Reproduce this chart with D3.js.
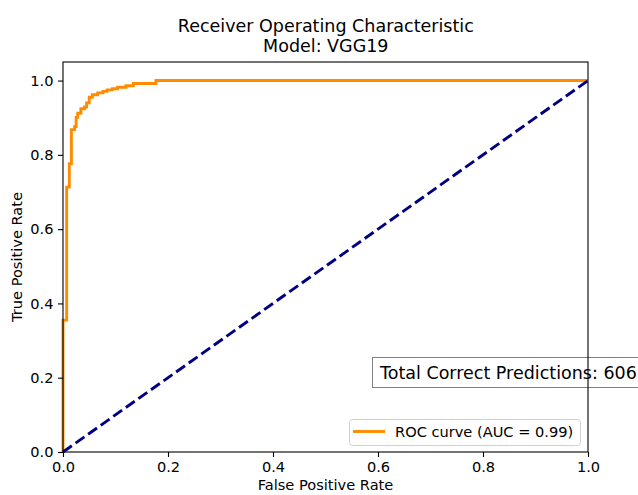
<!DOCTYPE html>
<html>
<head>
<meta charset="utf-8">
<script src="https://cdn.jsdelivr.net/npm/d3@7"></script>
<style>
  body { margin: 0; background: #fff; }
  svg { font-family: "DejaVu Sans", sans-serif; }
</style>
</head>
<body>
<div id="chart"></div>
<script>
// ROC curve vertices
const fpr = [0, 0, 0.007, 0.007, 0.012, 0.012, 0.016, 0.016, 0.022, 0.022, 0.025, 0.025,
  0.028, 0.028, 0.034, 0.034, 0.041, 0.041, 0.045, 0.045, 0.050, 0.050, 0.056, 0.056,
  0.066, 0.066, 0.076, 0.076, 0.084, 0.084, 0.094, 0.094, 0.104, 0.104, 0.120, 0.120,
  0.134, 0.134, 0.177, 0.177, 1];
const tpr = [0, 0.355, 0.355, 0.713, 0.713, 0.776, 0.776, 0.868, 0.868, 0.876, 0.876, 0.901,
  0.901, 0.912, 0.912, 0.924, 0.924, 0.929, 0.929, 0.940, 0.940, 0.955, 0.955, 0.962,
  0.962, 0.967, 0.967, 0.971, 0.971, 0.975, 0.975, 0.978, 0.978, 0.982, 0.982, 0.986,
  0.986, 0.992, 0.992, 1.0, 1.0];
const chance = [[0, 0], [1, 1]];
const ticks = [0, 0.2, 0.4, 0.6, 0.8, 1.0];
const titleLines = ['Receiver Operating Characteristic', 'Model: VGG19'];
const legendLabel = 'ROC curve (AUC = 0.99)';
const boxText = 'Total Correct Predictions: 606';

const width = 638, height = 495;
const margin = {top: 62, right: 50, bottom: 43, left: 63};

const svg = d3.select('#chart')
  .append('svg')
  .attr('width', width)
  .attr('height', height);

const x = d3.scaleLinear().domain([0, 1]).range([margin.left, width - margin.right]);
const y = d3.scaleLinear().domain([0, 1.05]).range([height - margin.bottom, margin.top]);

// title
svg.append('g')
  .selectAll('text')
  .data(titleLines)
  .enter()
  .append('text')
  .attr('x', 325.8)
  .attr('y', (d, i) => 31.7 + i * 20)
  .attr('text-anchor', 'middle')
  .style('font-size', '17.5px')
  .text(d => d);

const plot = svg.append('g');

const line = d3.line()
  .x(d => x(d[0]))
  .y(d => y(d[1]));

// ROC curve
plot.append('path')
  .datum(fpr.map((f, i) => [f, tpr[i]]))
  .attr('d', line)
  .attr('fill', 'none')
  .attr('stroke', '#ff8c00')
  .attr('stroke-width', 2.9);

// chance line
plot.append('path')
  .datum(chance)
  .attr('d', line)
  .attr('fill', 'none')
  .attr('stroke', '#000080')
  .attr('stroke-width', 2.9)
  .attr('stroke-dasharray', '10.8,4.6');

// text box
const boxG = svg.append('g');
const bt = boxG.append('text')
  .attr('x', 380)
  .attr('y', 378.5)
  .style('font-size', '17.5px')
  .text(boxText);
const bb = bt.node().getBBox();
boxG.insert('rect', 'text')
  .attr('x', 372.5)
  .attr('y', 357.5)
  .attr('width', bb.width + 16)
  .attr('height', 30)
  .attr('fill', '#fff')
  .attr('stroke', '#808080')
  .attr('stroke-width', 1);

// legend
const lg = svg.append('g');
lg.append('rect')
  .attr('x', 349.5)
  .attr('y', 419.5)
  .attr('width', 231)
  .attr('height', 26)
  .attr('rx', 3)
  .attr('fill', 'rgba(255,255,255,0.8)')
  .attr('stroke', '#d0d0d0')
  .attr('stroke-width', 1);
lg.append('line')
  .attr('x1', 353).attr('x2', 385)
  .attr('y1', 431.5).attr('y2', 431.5)
  .attr('stroke', '#ff8c00')
  .attr('stroke-width', 2.9);
lg.append('text')
  .attr('x', 395)
  .attr('y', 437)
  .style('font-size', '14.6px')
  .text(legendLabel);

// axes
const fmt = d3.format('.1f');
const xAxis = svg.append('g')
  .attr('transform', `translate(0,${height - margin.bottom})`)
  .call(d3.axisBottom(x).tickValues(ticks).tickFormat(fmt).tickSize(5).tickPadding(4.5));
const yAxis = svg.append('g')
  .attr('transform', `translate(${margin.left},0)`)
  .call(d3.axisLeft(y).tickValues(ticks).tickFormat(fmt).tickSize(5).tickPadding(4.5));
[xAxis, yAxis].forEach(a => {
  a.select('.domain').remove();
  a.selectAll('line').attr('stroke', '#000').attr('stroke-width', 1.1);
  a.selectAll('text').attr('fill', '#000').style('font-size', '14.6px').style('font-family', '"DejaVu Sans", sans-serif');
});

// spines
svg.append('rect')
  .attr('x', x(0))
  .attr('y', y(1.05))
  .attr('width', x(1) - x(0))
  .attr('height', y(0) - y(1.05))
  .attr('fill', 'none')
  .attr('stroke', '#000')
  .attr('stroke-width', 1.1);

// axis labels
svg.append('text')
  .attr('x', (x(0) + x(1)) / 2)
  .attr('y', 490)
  .attr('text-anchor', 'middle')
  .style('font-size', '14.6px')
  .text('False Positive Rate');
svg.append('text')
  .attr('transform', `translate(22,${(y(0) + y(1.05)) / 2}) rotate(-90)`)
  .attr('text-anchor', 'middle')
  .style('font-size', '14.6px')
  .text('True Positive Rate');
</script>
</body>
</html>
